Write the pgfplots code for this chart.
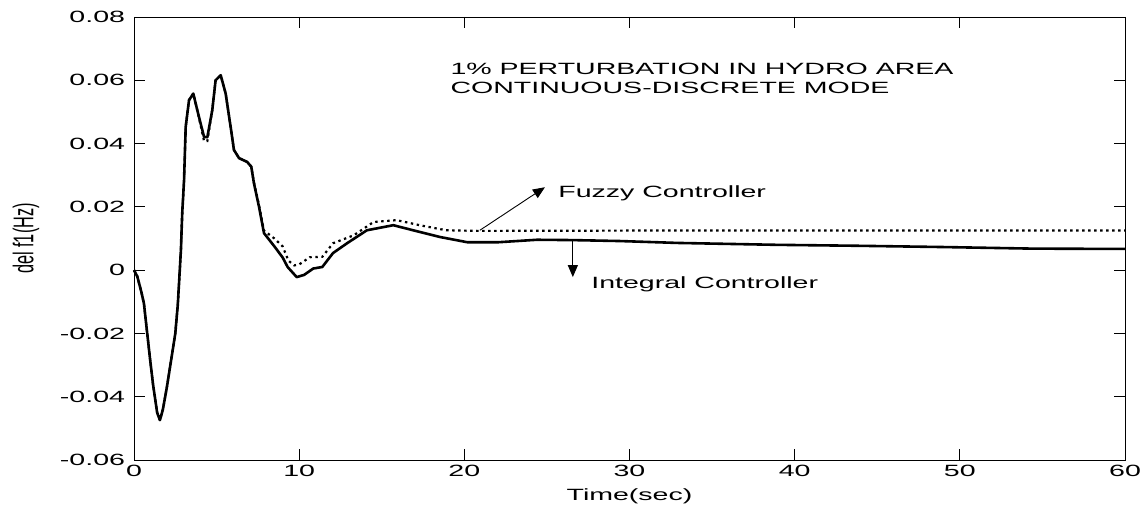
\documentclass[border=0pt]{standalone}
\usepackage{pgfplots}
\pgfplotsset{compat=1.18}
\usepackage{fontspec}
\setmainfont{Liberation Sans}[FakeStretch=1.75]
\newfontfamily\plainsf{Liberation Sans}
\usetikzlibrary{arrows.meta}
\newcommand\ff{\fontsize{16.3bp}{19bp}\selectfont}

\pgfplotstableread{
x y
0 0
0.2 -0.002
0.45 -0.007
0.6 -0.0105
0.78 -0.019
0.97 -0.028
1.15 -0.036
1.4 -0.045
1.57 -0.0474
1.75 -0.044
1.99 -0.037
2.28 -0.0274
2.5 -0.02
2.65 -0.011
2.75 -0.002
2.84 0.0063
2.92 0.018
3.03 0.0284
3.13 0.0453
3.33 0.0537
3.59 0.0558
3.83 0.0506
4.24 0.0421
4.44 0.042
4.74 0.0506
4.94 0.06
5.25 0.0616
5.55 0.0558
5.85 0.0453
6.05 0.038
6.36 0.0354
6.85 0.0342
7.1 0.0327
7.26 0.0275
7.57 0.02
7.87 0.0117
8.5 0.0075
9.0 0.004
9.3 0.001
9.85 -0.0022
10.3 -0.0015
10.85 0.0005
11.4 0.001
12.05 0.0054
12.9 0.0085
14.1 0.0126
15.7 0.0142
16.9 0.0126
18.5 0.0105
20.2 0.0088
22.0 0.0088
24.4 0.0096
26.5 0.0095
29.4 0.0092
32.9 0.0086
38.9 0.0080
43.8 0.0077
49 0.0073
54.4 0.0068
60 0.0067
}\integral

\pgfplotstableread{
x y
0 0
0.2 -0.002
0.45 -0.007
0.6 -0.0105
0.78 -0.019
0.97 -0.028
1.15 -0.036
1.4 -0.045
1.57 -0.0474
1.75 -0.044
1.99 -0.037
2.28 -0.0274
2.5 -0.02
2.65 -0.011
2.75 -0.002
2.84 0.0063
2.92 0.018
3.03 0.0284
3.13 0.0453
3.33 0.0537
3.59 0.0558
3.83 0.0506
4.24 0.0408
4.44 0.0408
4.74 0.0506
4.94 0.06
5.25 0.0616
5.55 0.0558
5.85 0.0453
6.05 0.038
6.36 0.0354
6.85 0.0342
7.1 0.0327
7.26 0.0278
7.57 0.0205
7.87 0.0125
8.2 0.0112
8.5 0.0100
9.0 0.0075
9.35 0.003
9.7 0.0015
10.0 0.0018
10.65 0.0041
11.4 0.0042
12.05 0.0085
13.3 0.011
14.5 0.0152
15.9 0.0158
17.3 0.0142
18.9 0.0126
20.9 0.0124
30 0.0125
40 0.0125
50 0.0125
60 0.0125
}\fuzzy

\begin{document}
\begin{tikzpicture}
\useasboundingbox (0,0) rectangle (1141bp,509bp);
\begin{axis}[
  at={(134bp,49bp)}, anchor=south west,
  scale only axis, width=991bp, height=443bp,
  xmin=0, xmax=60, ymin=-0.06, ymax=0.08,
  scaled y ticks=false, scaled x ticks=false,
  xtick={0,10,20,30,40,50,60},
  xticklabels={0,10,20,30,40,50,60},
  ytick={-0.06,-0.04,-0.02,0,0.02,0.04,0.06,0.08},
  yticklabels={-0.06,-0.04,-0.02,0,0.02,0.04,0.06,0.08},
  tick align=inside, tick pos=both, major tick length=11bp,
  axis line style={line width=0.9bp, black},
  every tick/.style={line width=0.9bp, black},
  tick label style={font=\ff, black},
  xticklabel style={yshift=-2bp},
  yticklabel style={xshift=-5.5bp},
  xlabel={Time(sec)},
  xlabel style={font=\ff, at={(axis description cs:0.5,-0.081)}, anchor=center},
  ylabel={\scalebox{1}[1.75]{\plainsf\ff del f1(Hz)}},
  ylabel style={at={(axis description cs:-0.109,0.5)}, anchor=center, rotate=0},
  clip=false,
]
\addplot[black, line width=2.2bp, dash pattern=on 2.4bp off 3.6bp] table[x=x,y=y] {\fuzzy};
\addplot[black, line width=2.6bp, line join=round] table[x=x,y=y] {\integral};

\node[anchor=base west, font=\ff] at (axis cs:18.95,0.0619) {1\% PERTURBATION IN HYDRO AREA};
\node[anchor=base west, font=\ff] at (axis cs:18.95,0.0558) {CONTINUOUS-DISCRETE MODE};
\node[anchor=base west, font=\ff] at (axis cs:25.48,0.0231) {Fuzzy Controller};
\node[anchor=base west, font=\ff] at (axis cs:27.48,-0.0057) {Integral Controller};
\draw[-{Triangle[length=12bp,width=10bp]}, line width=0.9bp] (axis cs:20.94,0.0126) -- (axis cs:24.88,0.0262);
\draw[-{Triangle[length=12bp,width=10bp]}, line width=1.1bp] (axis cs:26.57,0.0095) -- (axis cs:26.57,-0.0022);
\end{axis}
\end{tikzpicture}
\end{document}
